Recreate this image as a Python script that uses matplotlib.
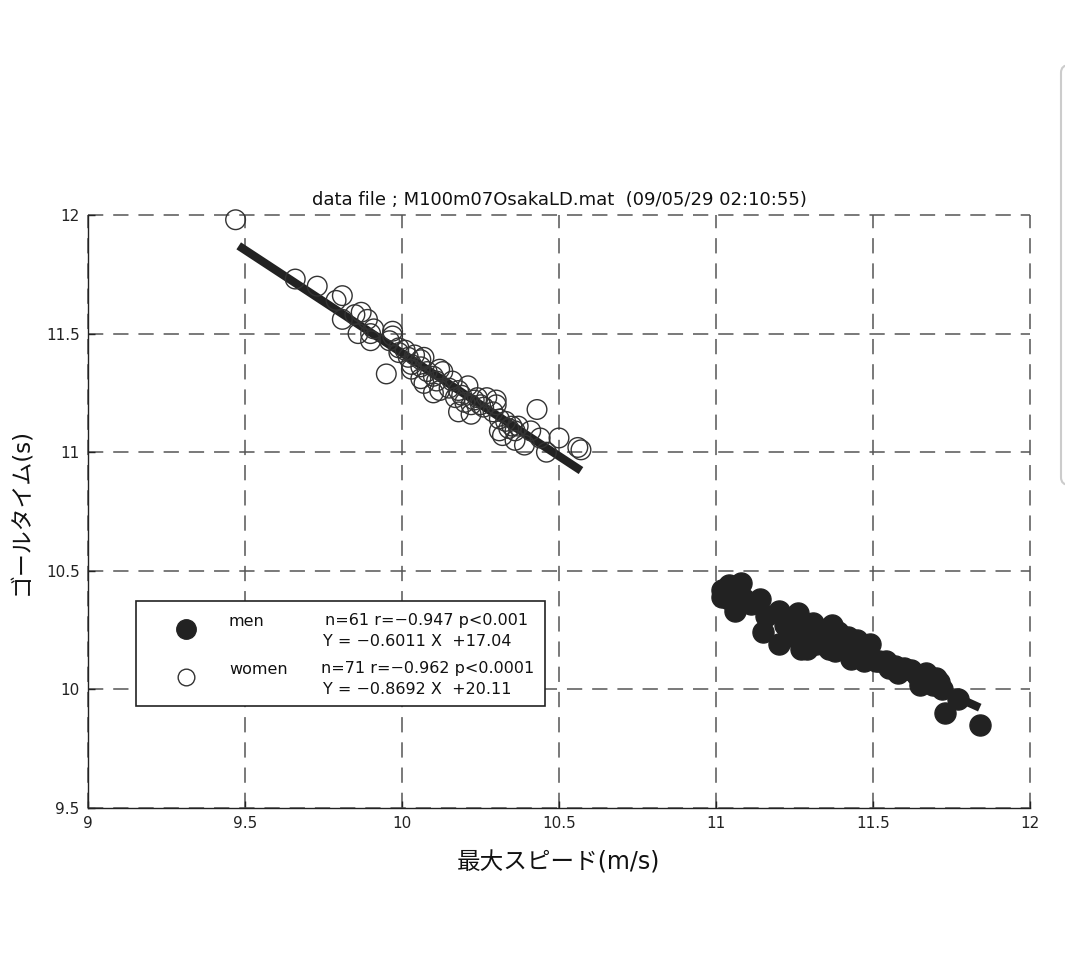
import matplotlib
matplotlib.use("Agg")
import matplotlib.pyplot as plt
from matplotlib.patches import Rectangle, FancyBboxPatch
import numpy as np

plt.rcParams['font.family'] = ['DejaVu Sans', 'Noto Sans CJK JP']
plt.rcParams['axes.unicode_minus'] = True

# ---------------- data ----------------
women_speed = [9.47, 9.66, 9.73, 9.79, 9.81, 9.81, 9.85, 9.87, 9.89, 9.86,
               9.90, 9.90, 9.91, 9.96, 9.97, 9.95, 9.99, 9.99, 10.02, 10.03,
               10.03, 10.04, 10.06, 10.06, 10.07, 10.06, 10.07, 10.08, 10.10, 10.11,
               10.12, 10.13, 10.12, 10.15, 10.17, 10.18, 10.19, 10.20, 10.21, 10.18,
               10.22, 10.23, 10.24, 10.25, 10.26, 10.27, 10.29, 10.30, 10.30, 10.31,
               10.31, 10.32, 10.33, 10.34, 10.35, 10.36, 10.37, 10.39, 10.41, 10.43,
               10.44, 10.46, 10.50, 10.56, 10.57, 9.97, 10.01, 10.16, 10.22, 10.36,
               10.10]
women_time = [11.98, 11.73, 11.70, 11.64, 11.66, 11.56, 11.58, 11.59, 11.56, 11.50,
              11.50, 11.47, 11.52, 11.47, 11.49, 11.33, 11.44, 11.42, 11.40, 11.37,
              11.35, 11.41, 11.39, 11.36, 11.40, 11.31, 11.29, 11.34, 11.32, 11.30,
              11.35, 11.34, 11.26, 11.27, 11.23, 11.26, 11.24, 11.21, 11.28, 11.17,
              11.20, 11.22, 11.23, 11.20, 11.19, 11.23, 11.17, 11.20, 11.22, 11.14,
              11.09, 11.07, 11.13, 11.10, 11.11, 11.09, 11.11, 11.03, 11.09, 11.18,
              11.06, 11.00, 11.06, 11.02, 11.01, 11.51, 11.43, 11.30, 11.16, 11.05,
              11.25]

men_speed = [11.02, 11.04, 11.02, 11.08, 11.04, 11.06, 11.14, 11.16, 11.15, 11.20,
             11.20, 11.24, 11.26, 11.27, 11.27, 11.28, 11.31, 11.32, 11.33, 11.35,
             11.36, 11.36, 11.38, 11.39, 11.39, 11.41, 11.42, 11.43, 11.45, 11.46,
             11.46, 11.47, 11.49, 11.51, 11.52, 11.54, 11.57, 11.58, 11.60, 11.62,
             11.64, 11.67, 11.68, 11.69, 11.70, 11.71, 11.72, 11.73, 11.77, 11.84,
             11.09, 11.11, 11.22, 11.25, 11.29, 11.32, 11.37, 11.43, 11.55, 11.65,
             11.04]
men_time = [10.42, 10.38, 10.39, 10.45, 10.40, 10.33, 10.38, 10.31, 10.24, 10.33,
            10.19, 10.29, 10.32, 10.25, 10.17, 10.21, 10.28, 10.19, 10.23, 10.24,
            10.21, 10.17, 10.16, 10.21, 10.24, 10.19, 10.22, 10.13, 10.21, 10.15,
            10.17, 10.12, 10.19, 10.12, 10.12, 10.12, 10.10, 10.07, 10.09, 10.08,
            10.06, 10.07, 10.04, 10.02, 10.05, 10.03, 10.00, 9.90, 9.96, 9.85,
            10.38, 10.36, 10.27, 10.22, 10.17, 10.26, 10.27, 10.17, 10.09, 10.02,
            10.44]

men_fit = (-0.6011, 17.04)
women_fit = (-0.8692, 20.11)
men_fit_range = (11.02, 11.84)
women_fit_range = (9.48, 10.57)

x_ticks = [9, 9.5, 10, 10.5, 11, 11.5, 12]
x_tick_labels = ['9', '9.5', '10', '10.5', '11', '11.5', '12']
y_ticks = [9.5, 10, 10.5, 11, 11.5, 12]
y_tick_labels = ['9.5', '10', '10.5', '11', '11.5', '12']

title_text = 'data file ; M100m07OsakaLD.mat  (09/05/29 02:10:55)'
x_label = '最大スピード(m/s)'
y_label = 'ゴールタイム(s)'
men_label = 'men'
women_label = 'women'
men_stats = ['n=61 r=\u22120.947 p<0.001', 'Y = \u22120.6011 X  +17.04']
women_stats = ['n=71 r=\u22120.962 p<0.0001', 'Y = \u22120.8692 X  +20.11']

# ---------------- figure ----------------
W, H = 1065, 959
fig = plt.figure(figsize=(W / 100, H / 100), dpi=100)
ax = fig.add_axes([88 / W, 1 - 808 / H, (1030 - 88) / W, (808 - 215) / H])

ax.set_xlim(9, 12)
ax.set_ylim(9.5, 12)

ax.set_axisbelow(True)
ax.grid(True, color='#555555', linewidth=1.1)
for gl in ax.get_xgridlines() + ax.get_ygridlines():
    gl.set_dashes((10, 6.5))
    gl.set_clip_on(False)

for s in ['top', 'right']:
    ax.spines[s].set_visible(False)
for s in ['left', 'bottom']:
    ax.spines[s].set_color('#222222')
    ax.spines[s].set_linewidth(1.0)

ax.set_xticks(x_ticks)
ax.set_xticklabels(x_tick_labels)
ax.set_yticks(y_ticks)
ax.set_yticklabels(y_tick_labels)
ax.tick_params(direction='in', length=5, width=1, labelsize=11, colors='#222222', pad=6)

# fit lines
xs = np.array(women_fit_range)
ax.plot(xs, women_fit[0] * xs + women_fit[1], color='#222222', lw=6, solid_capstyle='butt', zorder=3)
xs = np.array(men_fit_range)
ax.plot(xs, men_fit[0] * xs + men_fit[1], color='#222222', lw=6, solid_capstyle='butt', zorder=3)

# scatter
ax.scatter(women_speed, women_time, s=200, facecolors='none', edgecolors='#333333',
           linewidths=1.0, zorder=4, clip_on=False)
ax.scatter(men_speed, men_time, s=230, facecolors='#222222', edgecolors='#222222',
           linewidths=1.0, zorder=4, clip_on=False)

ax.set_title(title_text, fontsize=13, pad=7, color='#111111')
ax.set_xlabel(x_label, fontsize=17, labelpad=14, color='#111111')
ax.set_ylabel(y_label, fontsize=16.5, labelpad=9, color='#111111')

# legend box (drawn manually)
def fx(px):
    return px / W

def fy(py):
    return 1 - py / H

fig.patches.append(Rectangle((fx(136), fy(706)), fx(545) - fx(136), fy(601) - fy(706),
                             transform=fig.transFigure, facecolor='white',
                             edgecolor='#222222', lw=1.2, zorder=10))
fig.lines.append(plt.Line2D([fx(186)], [fy(629)], marker='o', markersize=14,
                            color='#222222', transform=fig.transFigure, zorder=11))
fig.lines.append(plt.Line2D([fx(186)], [fy(677)], marker='o', markersize=12,
                            markerfacecolor='white', markeredgecolor='#333333',
                            markeredgewidth=1.0, transform=fig.transFigure, zorder=11))
tkw = dict(fontsize=11.5, color='#111111', va='center', ha='left', zorder=12)
fig.text(fx(229), fy(621), men_label, **tkw)
fig.text(fx(229), fy(669), women_label, **tkw)
fig.text(fx(325), fy(621), men_stats[0], **tkw)
fig.text(fx(323), fy(642), men_stats[1], **tkw)
fig.text(fx(321), fy(669), women_stats[0], **tkw)
fig.text(fx(323), fy(690), women_stats[1], **tkw)

# screenshot scrollbar edge at right
fig.patches.append(FancyBboxPatch((fx(1061), fy(485)), 0.02, fy(65) - fy(485),
                                  boxstyle='round,pad=0,rounding_size=0.008',
                                  transform=fig.transFigure, facecolor='white',
                                  edgecolor='#cccccc', lw=1.5, zorder=1))

fig.savefig('out.png', dpi=100)
